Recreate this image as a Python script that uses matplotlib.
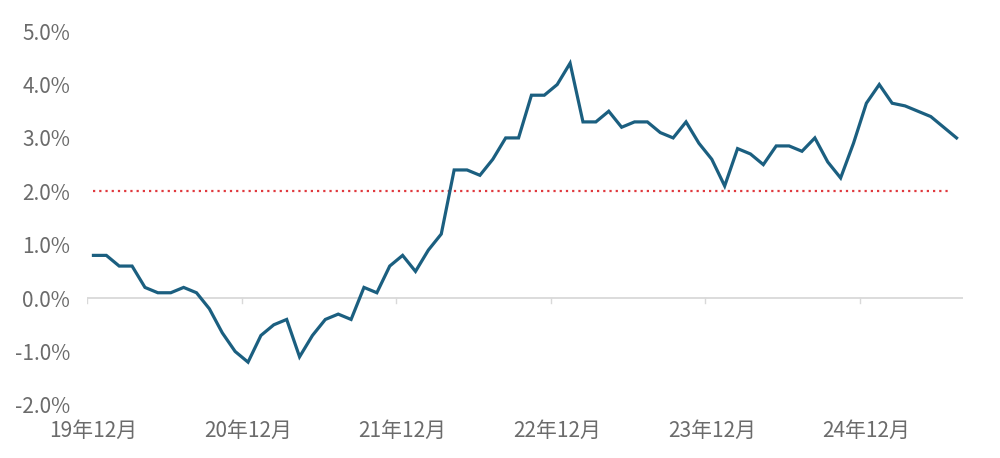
import matplotlib
matplotlib.use("Agg")
import matplotlib.pyplot as plt
import numpy as np

plt.rcParams['font.family'] = ['Noto Sans CJK JP', 'DejaVu Sans']

# monthly values, 2019-12 .. 2025-07 (%)
values = [
    0.8, 0.8, 0.6, 0.6, 0.2, 0.1, 0.1, 0.2, 0.1, -0.2, -0.65, -1.0,     # 19/12 - 20/11
    -1.2, -0.7, -0.5, -0.4, -1.1, -0.7, -0.4, -0.3, -0.4, 0.2, 0.1, 0.6,  # 20/12 - 21/11
    0.8, 0.5, 0.9, 1.2, 2.4, 2.4, 2.3, 2.6, 3.0, 3.0, 3.8, 3.8,           # 21/12 - 22/11
    4.0, 4.4, 3.3, 3.3, 3.5, 3.2, 3.3, 3.3, 3.1, 3.0, 3.3, 2.9,           # 22/12 - 23/11
    2.6, 2.1, 2.8, 2.7, 2.5, 2.85, 2.85, 2.75, 3.0, 2.55, 2.25, 2.9,      # 23/12 - 24/11
    3.65, 4.0, 3.65, 3.6, 3.5, 3.4, 3.2, 3.0,                             # 24/12 - 25/07
]
tick_labels = ['19年12月', '20年12月', '21年12月', '22年12月', '23年12月', '24年12月']
target = 2.0

x = np.arange(len(values))

fig = plt.figure(figsize=(10, 4.58), dpi=100)
ax = fig.add_axes([0.087, 0.116, 0.876, 0.816])

ax.plot(x, values, color='#1b5f80', linewidth=2.3, solid_joinstyle='miter', zorder=3)
ax.hlines(target, x[0], x[-1] - 0.4, colors='#e0393e', linestyles=(0, (1, 1.8)), linewidth=1.6, zorder=2)

ax.set_xlim(-0.5, len(values) - 0.5)
ax.set_ylim(-2, 5)

for s in ax.spines.values():
    s.set_visible(False)

# zero axis with tick marks on category boundaries
ax.axhline(0, color='#d9d9d9', linewidth=1.3, zorder=1)
for b in np.arange(-0.5, len(values), 12):
    ax.plot([b, b], [0, -0.1], color='#d9d9d9', linewidth=1.0, zorder=1)

ax.set_yticks(np.arange(-2, 5.1, 1))
ax.set_yticklabels([f'{v:.1f}%' for v in np.arange(-2, 5.1, 1)])
ax.set_xticks(x[::12])
ax.set_xticklabels(tick_labels)
ax.tick_params(axis='y', length=0, pad=12, labelsize=15, labelcolor='#6b6b6b')
ax.tick_params(axis='x', length=0, pad=11, labelsize=15, labelcolor='#6b6b6b')

fig.savefig('out.png', dpi=100)
